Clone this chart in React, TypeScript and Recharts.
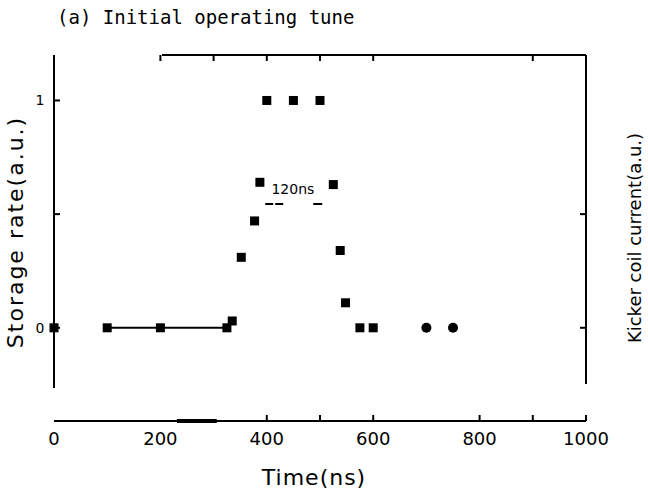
import {
  ComposedChart, Scatter, Line, XAxis, YAxis, ReferenceLine, ReferenceDot,
} from 'recharts'

// Storage rate vs time, initial operating tune. Squares are the measured
// points, the last two (700/750 ns) are drawn round as in the scan.
const timeNs      = [0, 100, 200, 325, 335, 352, 377, 387, 400, 450, 500, 525, 538, 548, 575, 600, 700, 750]
const storageRate = [0, 0, 0, 0, 0.03, 0.31, 0.47, 0.64, 1, 1, 1, 0.63, 0.34, 0.11, 0, 0, 0, 0]
const markerShape = ['sq', 'sq', 'sq', 'sq', 'sq', 'sq', 'sq', 'sq', 'sq', 'sq', 'sq', 'sq', 'sq', 'sq', 'sq', 'sq', 'dot', 'dot']

// flat baseline drawn under the first points
const baselineTime = [100, 200, 325]
const baselineRate = [0, 0, 0]

const xTickLabels     = [0, 200, 400, 600, 800, 1000]
const bottomTickMarks = [400, 500, 600, 800, 900, 1000]
const topTickMarks    = [200, 300, 400, 500, 600, 900]
const leftTicks       = [0, 0.5, 1]
const leftTickLabels  = ['0', '', '1']
const rightTicks      = [0, 0.5]

const X_DOMAIN: [number, number] = [0, 1000]
const Y_DOMAIN: [number, number] = [-0.41, 1.2]

const points = timeNs.map((t, i) => ({ t, v: storageRate[i], shape: markerShape[i] }))
const baseline = baselineTime.map((t, i) => ({ t, v: baselineRate[i] }))
const bottomTicks = Array.from(new Set([...xTickLabels, ...bottomTickMarks])).sort((a, b) => a - b)

const FONT = '"DejaVu Sans", sans-serif'

function Marker(props: any) {
  const { cx, cy, payload } = props
  if (cx == null || cy == null) return null
  if (payload.shape === 'dot') return <circle cx={cx} cy={cy} r={5} fill="#000" />
  return <rect x={cx - 4.5} y={cy - 4.5} width={9} height={9} fill="#000" />
}

function BottomTick({ x, y, payload }: any) {
  const v = payload.value
  return (
    <g>
      {bottomTickMarks.includes(v) && <line x1={x} x2={x} y1={y} y2={y - 6} stroke="#000" strokeWidth={2} />}
      {xTickLabels.includes(v) && (
        <text x={x} y={y + 24} textAnchor="middle" fontSize={18} fontFamily={FONT} fill="#000">{v}</text>
      )}
    </g>
  )
}

function TopTick({ x, y }: any) {
  return <line x1={x} x2={x} y1={y} y2={y + 6} stroke="#000" strokeWidth={2} />
}

function LeftTick({ x, y, payload }: any) {
  return (
    <g>
      <line x1={x} x2={x + 6} y1={y} y2={y} stroke="#000" strokeWidth={2} />
      <text x={x - 14} y={y + 5} textAnchor="middle" fontSize={14} fontFamily={FONT} fill="#000">
        {leftTickLabels[leftTicks.indexOf(payload.value)] ?? ''}
      </text>
    </g>
  )
}

function RightTick({ x, y }: any) {
  return <line x1={x} x2={x - 6} y1={y} y2={y} stroke="#000" strokeWidth={2} />
}

const vText = (cx: number, cy: number, size: number, spacing: number): React.CSSProperties => ({
  position: 'absolute', left: cx, top: cy, transform: 'translate(-50%, -50%) rotate(-90deg)',
  whiteSpace: 'nowrap', fontFamily: FONT, fontSize: size, letterSpacing: spacing, color: '#000', lineHeight: 1,
})

export default function App() {
  return (
    <div style={{ position: 'absolute', left: 0, top: 0, width: 648, height: 495, background: '#fff' }}>
      <div style={{
        position: 'absolute', left: 57, top: 7, fontFamily: '"DejaVu Sans Mono", monospace',
        fontSize: 19, color: '#000', whiteSpace: 'nowrap', lineHeight: 1.1,
      }}>
        (a) Initial operating tune
      </div>

      <ComposedChart
        width={648} height={495}
        margin={{ top: 45, right: 42, bottom: 44, left: 14 }}
        style={{ position: 'absolute', left: 0, top: 0 }}
      >
        <XAxis
          xAxisId="b" dataKey="t" type="number" domain={X_DOMAIN} ticks={bottomTicks} interval={0}
          height={30} tickSize={0} tickMargin={0} tickLine={false}
          axisLine={{ stroke: '#000', strokeWidth: 2 }} tick={<BottomTick />}
        />
        <XAxis
          xAxisId="top" orientation="top" dataKey="t" type="number" domain={X_DOMAIN} ticks={topTickMarks}
          interval={0} height={10} tickSize={0} tickMargin={0} tickLine={false} axisLine={false} tick={<TopTick />}
        />
        <YAxis
          yAxisId="l" type="number" domain={Y_DOMAIN} ticks={leftTicks} interval={0} width={40}
          tickSize={0} tickMargin={0} tickLine={false} axisLine={false} tick={<LeftTick />}
        />
        <YAxis
          yAxisId="r" orientation="right" type="number" domain={Y_DOMAIN} ticks={rightTicks} interval={0} width={20}
          tickSize={0} tickMargin={0} tickLine={false} axisLine={false} tick={<RightTick />}
        />

        {/* frame: the scan lost the left end of the top border */}
        <ReferenceLine xAxisId="b" yAxisId="l" ifOverflow="visible" stroke="#000" strokeWidth={2}
          segment={[{ x: 0, y: -0.265 }, { x: 0, y: 1.2 }]} />
        <ReferenceLine xAxisId="b" yAxisId="l" ifOverflow="visible" stroke="#000" strokeWidth={2}
          segment={[{ x: 1000, y: -0.247 }, { x: 1000, y: 1.2 }]} />
        <ReferenceLine xAxisId="b" yAxisId="l" ifOverflow="visible" stroke="#000" strokeWidth={2}
          segment={[{ x: 203, y: 1.2 }, { x: 1000, y: 1.2 }]} />
        <ReferenceLine xAxisId="b" yAxisId="l" ifOverflow="visible" stroke="#000" strokeWidth={4}
          segment={[{ x: 231, y: -0.41 }, { x: 306, y: -0.41 }]} />

        {/* 120 ns width marker */}
        <ReferenceLine xAxisId="b" yAxisId="l" ifOverflow="visible" stroke="#000" strokeWidth={2}
          strokeDasharray="8 2 8 30 9 100"
          segment={[{ x: 397, y: 0.545 }, { x: 505, y: 0.545 }]} />
        <ReferenceDot xAxisId="b" yAxisId="l" x={449} y={0.61} r={0} fill="none" stroke="none"
          label={{ value: '120ns', position: 'center', fontSize: 14, fontFamily: FONT, fill: '#000' }} />

        {/* baseline sits on the top/right axes (same domains) so those axes get drawn */}
        <Line xAxisId="top" yAxisId="r" data={baseline} dataKey="v" stroke="#000" strokeWidth={2}
          dot={false} activeDot={false} isAnimationActive={false} />
        <Scatter xAxisId="b" yAxisId="l" data={points} dataKey="v" shape={<Marker />} isAnimationActive={false} />
      </ComposedChart>

      <div style={vText(16, 232, 22, 2)}>Storage rate(a.u.)</div>
      <div style={vText(635, 238, 18, 0)}>Kicker coil current(a.u.)</div>
      <div style={{
        position: 'absolute', left: 314, top: 478, transform: 'translate(-50%, -50%)', fontFamily: FONT,
        fontSize: 22, letterSpacing: 1, color: '#000', whiteSpace: 'nowrap', lineHeight: 1,
      }}>
        Time(ns)
      </div>
    </div>
  )
}
